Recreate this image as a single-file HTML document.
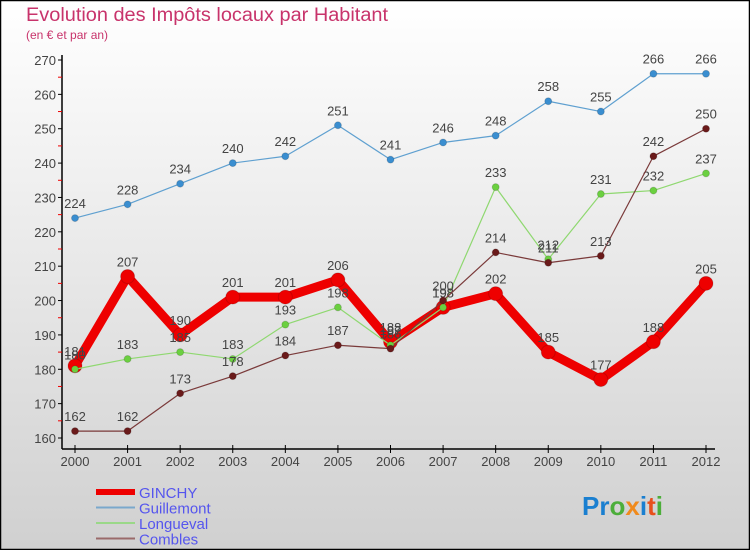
<!DOCTYPE html>
<html><head><meta charset="utf-8"><style>
html,body{margin:0;padding:0;}
body{width:750px;height:550px;overflow:hidden;font-family:"Liberation Sans",sans-serif;}
</style></head><body>
<svg id="chart" width="750" height="550" xmlns="http://www.w3.org/2000/svg">
<defs><linearGradient id="bg" x1="0" y1="0" x2="0" y2="1"><stop offset="0" stop-color="#ffffff"/><stop offset="1" stop-color="#d0d0d0"/></linearGradient></defs>
<rect x="0.5" y="0.5" width="749" height="549" fill="url(#bg)" stroke="#000" stroke-width="1.5"/>
<text x="26" y="21" font-size="19" fill="#c8336b" textLength="362" lengthAdjust="spacingAndGlyphs">Evolution des Impôts locaux par Habitant</text>
<text x="26" y="39" font-size="12" fill="#c8336b">(en € et par an)</text>
<g id="axes"></g>
<g id="series"></g>
<g id="legend"></g>
<g font-size="26" font-weight="bold">
<text x="582" y="515"><tspan fill="#1a7fd0">Pr</tspan><tspan fill="#4cae3a">o</tspan><tspan fill="#f08a1c">x</tspan><tspan fill="#1a7fd0">i</tspan><tspan fill="#e8501c">t</tspan><tspan fill="#4cae3a">i</tspan></text>
</g>
</svg>
<script>
const years=[2000,2001,2002,2003,2004,2005,2006,2007,2008,2009,2010,2011,2012];
const ginchy=[181,207,190,201,201,206,188,198,202,185,177,188,205];
const guillemont=[224,228,234,240,242,251,241,246,248,258,255,266,266];
const longueval=[180,183,185,183,193,198,187,198,233,212,231,232,237];
const combles=[162,162,173,178,184,187,186,200,214,211,213,242,250];
const yTicks=[160,170,180,190,200,210,220,230,240,250,260,270];
const NS="http://www.w3.org/2000/svg";
function X(i){return 75+i*(706-75)/(years.length-1);}
function Y(v){return 438-(v-160)*(438-60)/110;}
function mk(tag,attrs,parent){const e=document.createElementNS(NS,tag);for(const k in attrs)e.setAttribute(k,attrs[k]);parent.appendChild(e);return e;}
const ax=document.getElementById('axes');
let a=mk('line',{x1:62,y1:55,x2:62,y2:449,stroke:'#000','stroke-width':1.5},ax);


a=mk('line',{x1:62,y1:449,x2:715,y2:449,stroke:'#000','stroke-width':1.5},ax);


yTicks.forEach(v=>{
 mk('line',{x1:58,y1:Y(v),x2:62,y2:Y(v),stroke:'#000'},ax);
 if(v<270) mk('line',{x1:58,y1:Y(v+5),x2:62,y2:Y(v+5),stroke:'#e00'},ax);
 const t=mk('text',{x:56,y:Y(v)+5,'font-size':13,fill:'#444','text-anchor':'end'},ax);
 t.textContent=v;
 
 
});
years.forEach((yr,i)=>{
 mk('line',{x1:X(i),y1:445,x2:X(i),y2:453,stroke:'#000'},ax);
 const t=mk('text',{x:X(i),y:466,'font-size':13,fill:'#444','text-anchor':'middle'},ax);
 t.textContent=yr;
 
 
});
const sg=document.getElementById('series');
function series(data,name,color,lw,r,dot){
 const g=mk('g',{},sg);
 
 
 const p=mk('polyline',{points:data.map((v,i)=>X(i)+','+Y(v)).join(' '),fill:'none',stroke:color,'stroke-width':lw,'stroke-linejoin':'round'},g);
 
 
 data.forEach((v,i)=>{
  const c=mk('circle',{cx:X(i),cy:Y(v),r:r,fill:dot,stroke:'rgba(0,0,0,0.15)'},g);
  
  
  const t=mk('text',{x:X(i),y:Y(v)-10,'font-size':13,fill:'#444','text-anchor':'middle'},g);
  t.textContent=v;
  
  
 });
}
series(ginchy,'ginchy','#ee0000',9,7,'#ee0000');
series(guillemont,'guillemont','#5fa0d0',1.2,3.5,'#3a8ed0');
series(longueval,'longueval','#8fd870',1.2,3.5,'#6bd040');
series(combles,'combles','#7a3a3a',1.2,3.5,'#6a1a1a');
const lg=document.getElementById('legend');
[['GINCHY','#ee0000',6],['Guillemont','#7aa8cc',2],['Longueval','#9ad888',2],['Combles','#9a6a6a',2]].forEach((e,i)=>{
 const y=492+i*15.5;
 const g=mk('g',{},lg);
 
 
 mk('line',{x1:96,y1:y,x2:135,y2:y,stroke:e[1],'stroke-width':e[2]},g);
 const t=mk('text',{x:139,y:y+6,'font-size':15,fill:'#5555ee'},g);
 t.textContent=e[0];
});
</script>
</body></html>
